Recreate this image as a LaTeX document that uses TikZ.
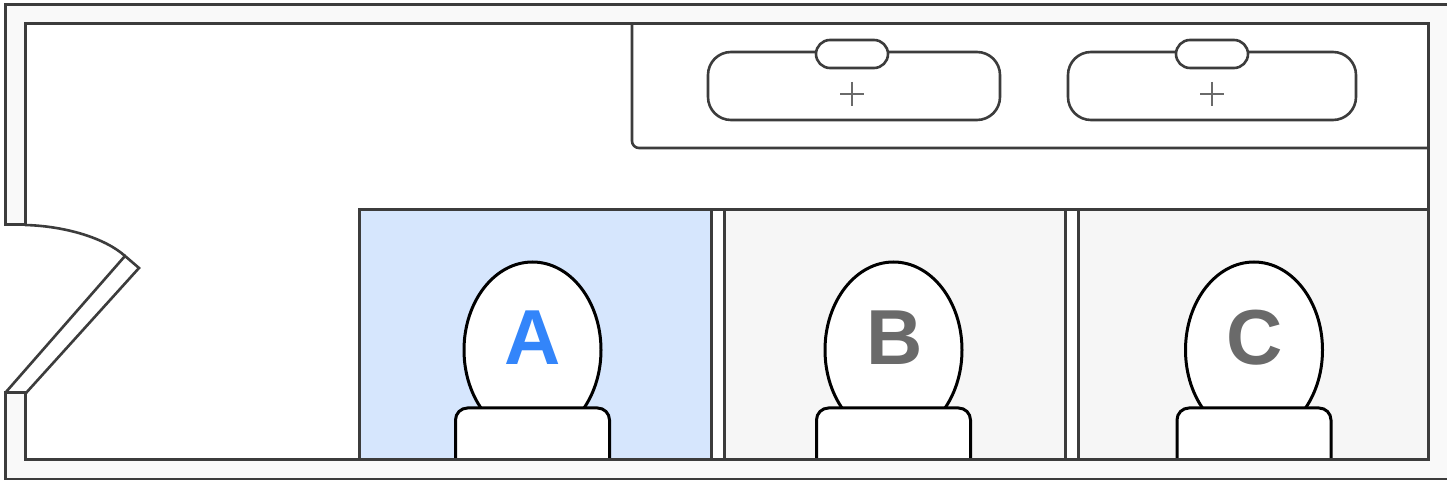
\documentclass[tikz,border=0pt]{standalone}
\usepackage{fontspec}
\setmainfont{Liberation Sans}
\definecolor{wall}{HTML}{3C3C3C}
\definecolor{wallfill}{HTML}{F9F9F9}
\definecolor{selfill}{HTML}{D6E6FD}
\definecolor{selblue}{HTML}{3385FA}
\definecolor{stallfill}{HTML}{F6F6F6}
\definecolor{labelgrey}{HTML}{6A6A6A}
\tikzset{
	wallline/.style={draw=wall, line width=1.5pt},
	thinline/.style={draw=wall, line width=1.3pt},
	bowl/.style={draw=black, line width=1.5pt, fill=white},
	stalllabel/.style={font=\fontsize{39}{39}\selectfont\bfseries, inner sep=0pt, anchor=base},
	drain/.style={draw=labelgrey, line width=1.3pt},
}
\begin{document}
\begin{tikzpicture}[x=0.5pt, y=-0.5pt]
\useasboundingbox (0,0) rectangle (1447,480);

% walls
\fill[white] (0,0) rectangle (1447,480);
\path[wallline, fill=wallfill] (5,4.5) rectangle (1448,479.5);
\path[wallline, fill=white] (25,24) rectangle (1428,460);

% door opening
\fill[white] (3.5,226.5) rectangle (26.5,392);
\path[wallline] (4,225) -- (26,225);
\path[wallline] (4,393) -- (26,393);

% door leaf and swing
\path[thinline] (25,225) .. controls (65,226) and (105,238) .. (125,256);
\path[thinline, line join=miter] (6,392) -- (125,256) -- (139,268) -- (26,393);

% counter
\path[thinline, rounded corners=3.5pt] (632,24) -- (632,148) -- (1428,148);

% sinks
\path[thinline, rounded corners=11.5pt] (708,52) rectangle (1000,120);
\path[thinline, fill=white, rounded corners=7pt] (816,40) rectangle (888,68);
\path[drain] (840,94) -- (864,94) (852,82) -- (852,106);

\path[thinline, rounded corners=11.5pt] (1068,52) rectangle (1356,120);
\path[thinline, fill=white, rounded corners=7pt] (1176,40) rectangle (1248,68);
\path[drain] (1200,94) -- (1224,94) (1212,82) -- (1212,106);

% stalls
\path[wallline, fill=selfill] (359,210) rectangle (711.5,460);
\path[wallline, fill=stallfill] (724,210) rectangle (1065,460);
\path[wallline, fill=stallfill] (1078,210) rectangle (1428,460);
\path[wallline] (711.5,210) -- (1428,210);

% toilets
\foreach \name/\cx in {a/532.5, b/893.5, c/1254} {
	\path[bowl] (\cx,350) ellipse [x radius=68.5, y radius=88];
	\path[bowl, rounded corners=6pt] (\cx-77,461) -- (\cx-77,408) -- (\cx+77,408) -- (\cx+77,461);
}

\node (labelA) [stalllabel, text=selblue] at (533,365) {A};
\node (labelB) [stalllabel, text=labelgrey] at (895,365) {B};
\node (labelC) [stalllabel, text=labelgrey] at (1255,365) {C};

\path[wallline] (25,460) -- (1428,460);
\end{tikzpicture}
\end{document}
